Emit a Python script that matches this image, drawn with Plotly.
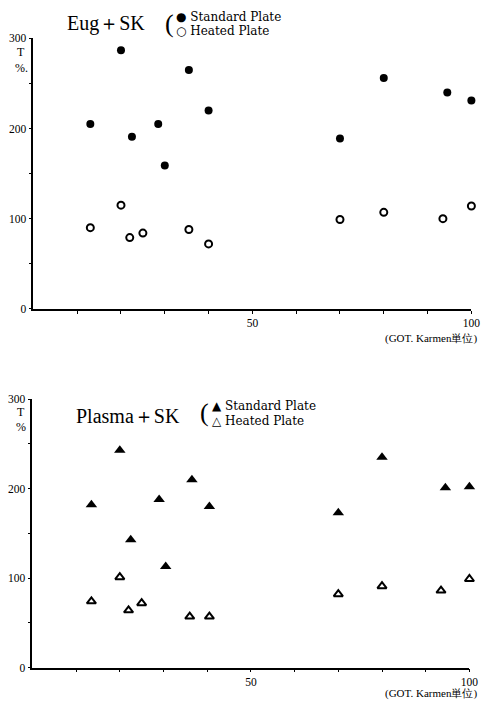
import plotly.graph_objects as go

# Eug + SK panel
eug_std_x = [13, 20, 22.5, 28.5, 30, 35.5, 40, 70, 80, 94.5, 100]
eug_std_y = [205, 287, 191, 205, 159, 265, 220, 189, 256, 240, 231]
eug_heat_x = [13, 20, 22, 25, 35.5, 40, 70, 80, 93.5, 100]
eug_heat_y = [90, 115, 79, 84, 88, 72, 99, 107, 100, 114]

# Plasma + SK panel
pl_std_x = [13.5, 20, 22.5, 29, 30.5, 36.5, 40.5, 70, 80, 94.5, 100]
pl_std_y = [182, 243, 143, 188, 113, 210, 180, 173, 235, 201, 202]
pl_heat_x = [13.5, 20, 22, 25, 36, 40.5, 70, 80, 93.5, 100]
pl_heat_y = [74, 101, 64, 72, 57, 57, 82, 91, 86, 99]

x_ticks = [10, 20, 30, 40, 50, 60, 70, 80, 90, 100]
x_ticktext = ["", "", "", "", "50", "", "", "", "", "100"]
y_ticks = [0, 50, 100, 150, 200, 250, 300]
y_ticktext = ["0", "", "100", "", "200", "", "300"]

SERIF = "Liberation Serif"
W, H = 501, 705

fig = go.Figure()

fig.add_trace(go.Scatter(x=eug_std_x, y=eug_std_y, mode="markers", xaxis="x", yaxis="y",
                         marker=dict(symbol="circle", size=8, color="black"), cliponaxis=False))
fig.add_trace(go.Scatter(x=eug_heat_x, y=eug_heat_y, mode="markers", xaxis="x", yaxis="y",
                         marker=dict(symbol="circle-open", size=7, color="black", line=dict(width=2)),
                         cliponaxis=False))
fig.add_trace(go.Scatter(x=pl_std_x, y=pl_std_y, mode="markers", xaxis="x2", yaxis="y2",
                         marker=dict(symbol="triangle-up", size=10, color="black"), cliponaxis=False))
fig.add_trace(go.Scatter(x=pl_heat_x, y=pl_heat_y, mode="markers", xaxis="x2", yaxis="y2",
                         marker=dict(symbol="triangle-up-open", size=8, color="black", line=dict(width=2)),
                         cliponaxis=False))

axis_common = dict(showgrid=False, zeroline=False, showline=True, linecolor="black", linewidth=1.5,
                   ticks="outside", ticklen=3, tickcolor="black",
                   tickfont=dict(family=SERIF, size=11.5, color="black"))

fig.update_layout(
    width=W, height=H,
    margin=dict(l=0, r=0, t=0, b=0),
    paper_bgcolor="white", plot_bgcolor="white",
    showlegend=False,
    xaxis=dict(domain=[34 / W, 480 / W], range=[0, 100], anchor="y",
               tickvals=x_ticks, ticktext=x_ticktext, **axis_common),
    yaxis=dict(domain=[1 - 308 / H, 1 - 33 / H], range=[0, 300], anchor="x",
               tickvals=y_ticks, ticktext=y_ticktext, **axis_common),
    xaxis2=dict(domain=[33 / W, 478 / W], range=[0, 100], anchor="y2",
                tickvals=x_ticks, ticktext=x_ticktext, **axis_common),
    yaxis2=dict(domain=[1 - 673 / H, 1 - 400 / H], range=[0, 300], anchor="x2",
                tickvals=y_ticks, ticktext=y_ticktext, **axis_common),
)


def px_text(x, y, text, size, anchor="left", family=SERIF):
    fig.add_annotation(x=x / W, y=1 - y / H, xref="paper", yref="paper", text=text,
                       showarrow=False, xanchor=anchor, yanchor="middle",
                       font=dict(family=family, size=size, color="black"))


LEG = "DejaVu Serif"

# Panel titles and legends
px_text(66, 18, "Eug＋SK", 20)
px_text(166, 18, "(", 26)
px_text(177, 11, "● Standard Plate", 12, family=LEG)
px_text(177, 25, "○ Heated Plate", 12, family=LEG)

px_text(75, 417, "Plasma＋SK", 20)
px_text(202, 414, "(", 26)
px_text(214, 407, "▲ Standard Plate", 12, family=LEG)
px_text(214, 422, "△ Heated Plate", 12, family=LEG)

# Y-axis unit labels
px_text(21, 47, "T", 12, "center")
px_text(22, 63, "%.", 12, "center")
px_text(21, 413, "T", 12, "center")
px_text(21, 428, "%", 12, "center")

# X-axis unit labels
px_text(488, 338, "(GOT. Karmen単位)", 11, "right")
px_text(488, 699, "(GOT. Karmen単位)", 11, "right")

fig.write_html("out.html")
